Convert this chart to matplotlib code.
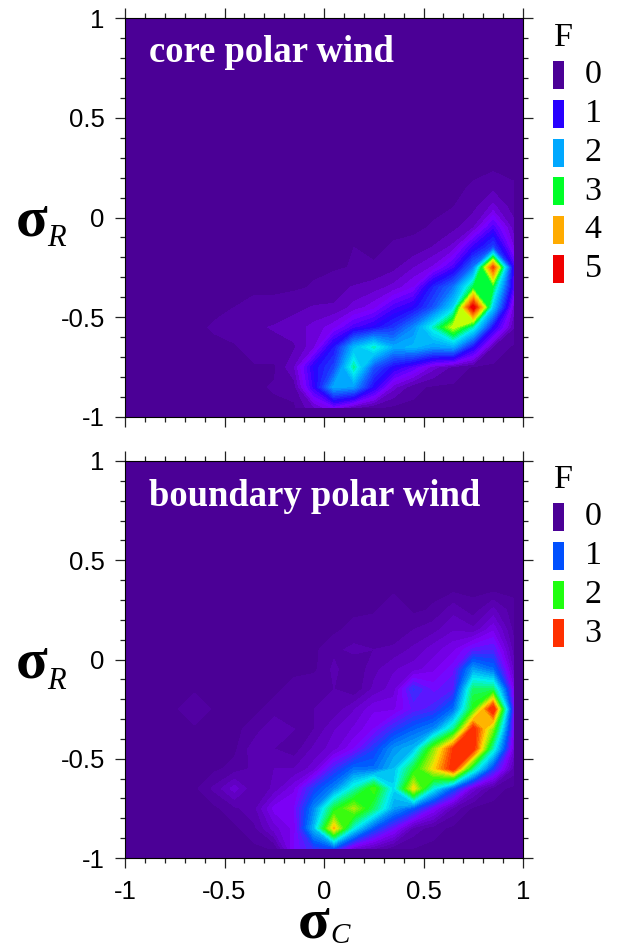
import matplotlib
matplotlib.use('Agg')
import numpy as np
import matplotlib.pyplot as plt
from matplotlib.colors import LinearSegmentedColormap
from matplotlib.patches import Rectangle
from matplotlib.ticker import MultipleLocator

W, H = 617, 949

# cell centres of the sigma grid
sigma_c = [-0.95, -0.85, -0.75, -0.65, -0.55, -0.45, -0.35, -0.25, -0.15, -0.05,
           0.05, 0.15, 0.25, 0.35, 0.45, 0.55, 0.65, 0.75, 0.85, 0.95]
sigma_r = [-0.95, -0.85, -0.75, -0.65, -0.55, -0.45, -0.35, -0.25, -0.15, -0.05,
           0.05, 0.15, 0.25, 0.35, 0.45, 0.55, 0.65, 0.75, 0.85, 0.95]

# F, rows go from sigma_r = -0.95 upwards
core_rows = [
    [0, 0, 0, 0, 0, 0, 0, 0, 0, .25, .55, .2, .05, 0, 0, 0, 0, 0, 0, 0],
    [0, 0, 0, 0, 0, 0, 0, .03, .08, .9, 2, 1.9, 1, .3, .05, 0, 0, 0, 0, 0],
    [0, 0, 0, 0, 0, 0, 0, 0, .25, 1, 1.4, 2.7, 1.5, 1, .7, .3, .1, 0, 0, 0],
    [0, 0, 0, 0, 0, 0, .1, .1, .12, .35, 1.1, 2.1, 2.6, 2, 2.1, 1.9, 2, 1, .1, 0],
    [0, 0, 0, 0, .03, .1, .12, .15, .2, .3, .45, .8, 1, 1.3, 1.8, 2.6, 3.5, 2.6, 1, .15],
    [0, 0, 0, 0, 0, .02, .05, .05, .1, .15, .15, .3, .45, .8, 1, 1.5, 2.3, 5.2, 2.2, .35],
    [0, 0, 0, 0, 0, 0, 0, 0, 0, .03, .1, .15, .2, .3, .5, 1.2, 1.7, 2.9, 2.9, .8],
    [0, 0, 0, 0, 0, 0, 0, 0, 0, 0, 0, .03, .03, .1, .25, .4, .8, 1.7, 4.6, .9],
    [0, 0, 0, 0, 0, 0, 0, 0, 0, 0, 0, .02, 0, .03, .05, .15, .3, .9, 1.4, .4],
    [0, 0, 0, 0, 0, 0, 0, 0, 0, 0, 0, 0, 0, 0, 0, .03, .1, .25, .8, .2],
    [0, 0, 0, 0, 0, 0, 0, 0, 0, 0, 0, 0, 0, 0, 0, 0, .02, .1, .3, .08],
    [0, 0, 0, 0, 0, 0, 0, 0, 0, 0, 0, 0, 0, 0, 0, 0, 0, .03, .1, .03],
] + [[0] * 20] * 8

boundary_rows = [
    [0, 0, 0, 0, 0, 0, 0, .03, .5, .75, .9, .35, .2, .05, .02, 0, 0, 0, 0, 0],
    [0, 0, 0, 0, 0, 0, .08, .3, .45, 1.3, 2.6, 1.5, .9, .55, .15, .05, 0, 0, 0, 0],
    [0, 0, 0, 0, 0, .08, .15, .45, .5, 1.1, 1.9, 2.3, 1.8, 1.2, .9, .5, .15, 0, 0, 0],
    [0, 0, 0, 0, .12, .3, .1, .2, .4, .8, 1.1, 1.6, 2.1, 1.4, 2.5, 1.5, .9, .3, .05, 0],
    [0, 0, 0, 0, 0, .05, .12, .18, .18, .3, .7, 1, 1, 1.3, 1.9, 2.5, 3.1, 1.7, .8, .15],
    [0, 0, 0, 0, 0, 0, .15, .1, .05, .2, .3, .5, .8, 1.15, 1.3, 2.2, 3, 3.1, 1.6, .35],
    [0, 0, 0, 0, 0, 0, .05, .18, .1, .1, .25, .35, .5, .75, .95, 1.1, 1.7, 3.1, 2.2, .5],
    [0, 0, 0, .1, 0, 0, 0, .05, .1, .1, .12, .25, .4, .4, .6, .7, 1, 2, 3.2, .6],
    [0, 0, 0, 0, 0, 0, 0, 0, .05, .1, .1, .03, .2, .3, .75, .55, .65, 1.8, 1.8, .45],
    [0, 0, 0, 0, 0, 0, 0, 0, 0, 0, .12, .03, .15, .25, .3, .4, .55, 1.2, 1, .25],
    [0, 0, 0, 0, 0, 0, 0, 0, 0, 0, .08, .12, .1, .12, .2, .3, .4, .6, .65, .15],
    [0, 0, 0, 0, 0, 0, 0, 0, 0, 0, 0, .05, .1, .03, .1, .15, .25, .2, .4, .08],
    [0, 0, 0, 0, 0, 0, 0, 0, 0, 0, 0, 0, 0, .1, 0, .03, .15, .05, .2, .05],
] + [[0] * 20] * 7

core_ticks = ['0', '1', '2', '3', '4', '5']
boundary_ticks = ['0', '1', '2', '3']
axis_ticks = [-1, -0.5, 0, 0.5, 1]
axis_labels = ['-1', '-0.5', '0', '0.5', '1']

core_colors = ['#4b0096', '#2800ff', '#00a8ff', '#00ff28', '#ffab00', '#f00000']
boundary_colors = ['#4b0096', '#0050ff', '#20ff10', '#ff3000']

INDIGO = '#4b0096'
core_cmap = LinearSegmentedColormap.from_list('core', [
    (0, INDIGO), (0.1, '#8000ff'), (0.2, '#2800ff'), (0.4, '#00a8ff'),
    (0.5, '#00f0f0'), (0.6, '#00ff28'), (0.7, '#d8ff00'), (0.8, '#ffab00'), (1, '#f00000')])
boundary_cmap = LinearSegmentedColormap.from_list('boundary', [
    (0, INDIGO), (0.167, '#8000ff'), (0.3, '#0050ff'), (0.5, '#00f0f0'),
    (0.667, '#20ff10'), (0.833, '#ffe000'), (1, '#ff3000')])

SERIF = 'Liberation Serif'


def draw_panel(top, bottom, rows, cmap, fmax, step, title, show_x):
    ax = fig.add_axes([125 / W, 1 - bottom / H, (523 - 125) / W, (bottom - top) / H])
    ax.set_facecolor(INDIGO)
    levels = np.arange(0.02, fmax + step, step)
    ax.contourf(sigma_c, sigma_r, np.array(rows), levels=levels, cmap=cmap,
                vmin=0, vmax=fmax, extend='max')
    ax.set_xlim(-1, 1)
    ax.set_ylim(-1, 1)
    ax.xaxis.set_minor_locator(MultipleLocator(0.1))
    ax.yaxis.set_minor_locator(MultipleLocator(0.1))
    ax.set_xticks(axis_ticks)
    ax.set_yticks(axis_ticks)
    ax.set_xticklabels(axis_labels if show_x else [])
    ax.set_yticklabels(axis_labels)
    ax.tick_params(which='major', direction='out', length=7.5, width=0.9, color='#222222',
                   top=True, right=True, labelsize=18.5)
    ax.tick_params(which='minor', direction='out', length=3.5, width=0.9, color='#222222',
                   top=True, right=True)
    ax.tick_params(axis='x', which='major', pad=8)
    ax.tick_params(axis='y', which='major', pad=7)
    for s in ax.spines.values():
        s.set_linewidth(0.8)
    fig.text(149 / W, 1 - (top + 35) / H, title, color='white', family=SERIF,
             weight='bold', fontsize=26.4, va='center')
    # y axis label
    fig.text(32 / W, 1 - (top + 217) / H, '\u03c3', family=SERIF, weight='bold',
             fontsize=42, ha='center', va='baseline')
    fig.text(56 / W, 1 - (top + 228) / H, 'R', family=SERIF, style='italic',
             fontsize=22, ha='center', va='baseline')
    return ax


def draw_legend(top, labels, colors):
    fig.text(563 / W, 1 - top / H, 'F', family=SERIF, fontsize=24.5, ha='center', va='center')
    for i, lab in enumerate(labels):
        yc = top + 37 + i * 38.8
        fig.add_artist(Rectangle((553 / W, 1 - (yc + 14) / H), 10.5 / W, 28 / H,
                                 transform=fig.transFigure, color=colors[i], lw=0))
        fig.text(593 / W, 1 - yc / H, lab, family=SERIF, fontsize=24.5,
                 ha='center', va='center')


plt.rcParams['font.family'] = ['Liberation Sans', 'DejaVu Sans']
fig = plt.figure(figsize=(W / 100, H / 100), dpi=100)

draw_panel(18, 417, core_rows, core_cmap, 5, 0.12, 'core polar wind', False)
draw_panel(461, 858, boundary_rows, boundary_cmap, 3, 0.08, 'boundary polar wind', True)

draw_legend(38, core_ticks, core_colors)
draw_legend(480, boundary_ticks, boundary_colors)

# x axis label
fig.text(314 / W, 1 - 938 / H, '\u03c3', family=SERIF, weight='bold',
         fontsize=42, ha='center', va='baseline')
fig.text(340 / W, 1 - 943 / H, 'C', family=SERIF, style='italic',
         fontsize=21, ha='center', va='baseline')

fig.savefig('out.png', dpi=100)
